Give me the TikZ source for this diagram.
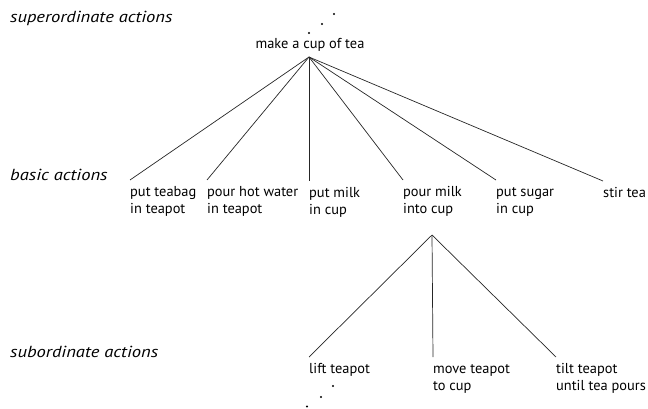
\documentclass[tikz,border=0pt]{standalone}
\usepackage{fontspec}
\setmainfont{PT Sans}
\newfontfamily\levelfont[FakeStretch=1.16]{PT Sans Italic}
\begin{document}
\begin{tikzpicture}[x=1pt,y=-1pt,
  level/.style={font=\fontsize{16}{19}\levelfont, anchor=base west, inner sep=0pt},
  act/.style={font=\fontsize{14.4}{17.3}\selectfont, align=left, anchor=north west,
              inner xsep=0pt, inner ysep=4pt},
  link/.style={line width=0.7pt, draw=black!85},
  ellip/.style={fill=black, draw=none}
]
\useasboundingbox (0,0) rectangle (648,409);

% level captions
\node[level] (lsup) at (10,23) {superordinate actions};
\node[level] (lbas) at (10,181) {basic actions};
\node[level] (lsub) at (10,357) {subordinate actions};

% root action
\node[font=\fontsize{14.4}{17}\selectfont, anchor=base, inner sep=0pt] (tea) at (310,49) {make a cup of tea};
\coordinate (teafork) at (309,57);

% basic actions
\node[act] (b1) at (130,180) {\strut put teabag\\in teapot};
\node[act] (b2) at (207,180) {\strut pour hot water\\in teapot};
\node[act] (b3) at (309,181) {\strut put milk\\in cup};
\node[act] (b4) at (403,180) {\strut pour milk\\into cup};
\node[act] (b5) at (496,180) {\strut put sugar\\in cup};
\node[act] (b6) at (603,181) {\strut stir tea};
\coordinate (milkfork) at (432,235);

% subordinate actions
\node[act] (s1) at (309,357) {\strut lift teapot};
\node[act] (s2) at (433,357) {\strut move teapot\\to cup};
\node[act] (s3) at (556,357) {\strut tilt teapot\\until tea pours};

% connectors
\foreach \n in {b1,b2,b3,b4,b5,b6}
  \draw[link] (teafork) -- (\n.north west);
\foreach \n in {s1,s2,s3}
  \draw[link] (milkfork) -- (\n.north west);

% ellipses above and below
\foreach \p in {(309,33),(322,24),(334,14),(333,386),(321,397),(307,406.5)}
  \fill[ellip] \p circle (1.1);
\end{tikzpicture}
\end{document}
